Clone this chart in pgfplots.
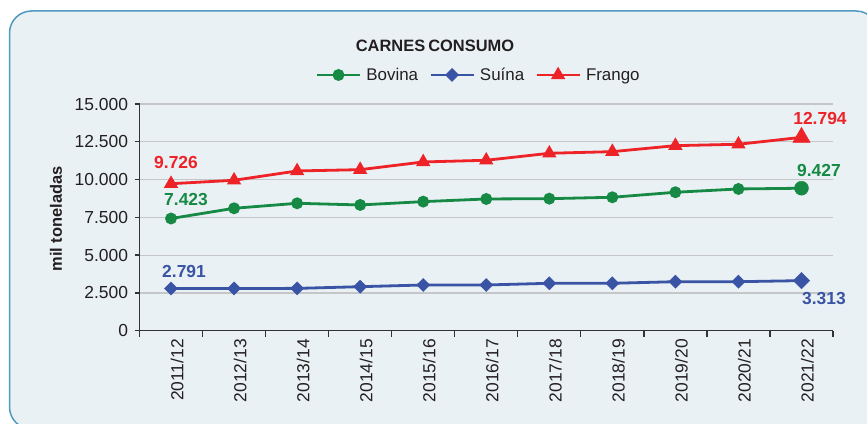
\documentclass[border=0pt]{standalone}
\usepackage{fontspec}
\setmainfont{Liberation Sans}
\usepackage{pgfplots}
\pgfplotsset{compat=1.18}
\definecolor{bov}{HTML}{168A45}
\definecolor{sui}{HTML}{3A54A5}
\definecolor{fra}{HTML}{EE2328}
\definecolor{bg}{HTML}{EAF1F5}
\definecolor{frame}{HTML}{5099C0}
\definecolor{gridgray}{HTML}{C4C6C8}
\definecolor{axdark}{HTML}{333333}
\definecolor{txt}{HTML}{231F20}
\begin{document}
\begin{tikzpicture}[x=1bp,y=1bp]
\path[use as bounding box] (0,0) rectangle (867,423);
\begin{scope}
\clip (0,0) rectangle (867,423);
\draw[line width=1.5bp, draw=frame, fill=bg, rounded corners=22bp] (9.5,-6) rectangle (878,412);
\end{scope}
\begin{axis}[
  at={(139.5bp,92.3bp)}, anchor=south west,
  scale only axis, width=693.5bp, height=226.7bp,
  xmin=-0.5, xmax=10.5, ymin=0, ymax=15000,
  axis x line*=bottom, axis y line*=left,
  clip=false,
  xtick={0,...,10},
  xticklabels={2011/12,2012/13,2013/14,2014/15,2015/16,2016/17,2017/18,2018/19,2019/20,2020/21,2021/22},
  major x tick style={draw=none},
  minor xtick={-0.5,0.5,1.5,2.5,3.5,4.5,5.5,6.5,7.5,8.5,9.5,10.5},
  tick align=outside,
  major tick length=5bp, minor tick length=6bp,
  x tick label style={rotate=90, anchor=east, font=\fontsize{17.5}{19}\selectfont, text=txt, yshift=-6bp},
  ytick={0,2500,5000,7500,10000,12500,15000},
  scaled y ticks=false,
  ymajorgrids, grid style={color=gridgray, line width=1.2bp},
  y tick label style={font=\fontsize{17.5}{19}\selectfont, text=txt, xshift=-3bp},
  /pgf/number format/assume math mode=true,
  y tick label style={/pgf/number format/fixed, /pgf/number format/1000 sep={.}},
  axis line style={line width=1.3bp, color=axdark},
  every tick/.style={line width=1.3bp, color=axdark},
  legend style={at={(0.489,1.128)}, anchor=center, draw=none, fill=none,
    font=\fontsize{17}{19}\selectfont, text=txt, legend columns=3,
    /tikz/every even column/.append style={column sep=9bp},
    /tikz/every odd column/.append style={column sep=3bp}},
  legend image code/.code={
    \draw[#1] (0bp,0bp) -- (43bp,0bp);
    \draw[#1, only marks] plot coordinates {(21.5bp,0bp)};
  },
]
\addplot[color=bov, line width=2.8bp, mark=*, mark size=4.5bp, mark options={solid}] coordinates {
(0,7423) (1,8100) (2,8430) (3,8320) (4,8540) (5,8716) (6,8736) (7,8828) (8,9160) (9,9378) (10,9427)};
\addlegendentry{Bovina}
\addplot[color=sui, line width=2.8bp, mark=square*, mark size=3.5bp, mark options={solid, rotate=45}] coordinates {
(0,2791) (1,2795) (2,2800) (3,2912) (4,3025) (5,3025) (6,3137) (7,3137) (8,3243) (9,3243) (10,3313)};
\addlegendentry{Suína}
\addplot[color=fra, line width=2.8bp, mark=triangle*, mark size=5.5bp, mark options={solid}] coordinates {
(0,9726) (1,9953) (2,10570) (3,10655) (4,11165) (5,11277) (6,11740) (7,11847) (8,12244) (9,12336) (10,12794)};
\addlegendentry{Frango}
\addplot[forget plot, only marks, color=bov, mark=*, mark size=7bp] coordinates {(10,9427)};
\addplot[forget plot, only marks, color=sui, mark=square*, mark size=5.8bp, mark options={rotate=45}] coordinates {(10,3313)};
\addplot[forget plot, only marks, color=fra, mark=triangle*, mark size=10bp] coordinates {(10,12794)};
\begin{scope}[every node/.style={font=\fontsize{17.5}{19}\selectfont\bfseries}]
\node[text=fra] at (axis cs:0,9726) [xshift=5bp, yshift=21.7bp] {9.726};
\node[text=bov] at (axis cs:0,7423) [xshift=15bp, yshift=19.5bp] {7.423};
\node[text=sui] at (axis cs:0,2791) [xshift=13bp, yshift=17bp] {2.791};
\node[text=fra] at (axis cs:10,12794) [xshift=18.5bp, yshift=19bp] {12.794};
\node[text=bov] at (axis cs:10,9427) [xshift=17.5bp, yshift=18bp] {9.427};
\node[text=sui] at (axis cs:10,3313) [xshift=22.5bp, yshift=-17.5bp] {3.313};
\end{scope}
\end{axis}
\node[font=\fontsize{16.5}{19}\selectfont\bfseries, text=txt] at (435,377) {CARNES\hspace{3bp}CONSUMO};
\node[rotate=90, font=\fontsize{16.5}{19}\selectfont\bfseries, text=txt] at (56,204) {mil toneladas};
\end{tikzpicture}
\end{document}
